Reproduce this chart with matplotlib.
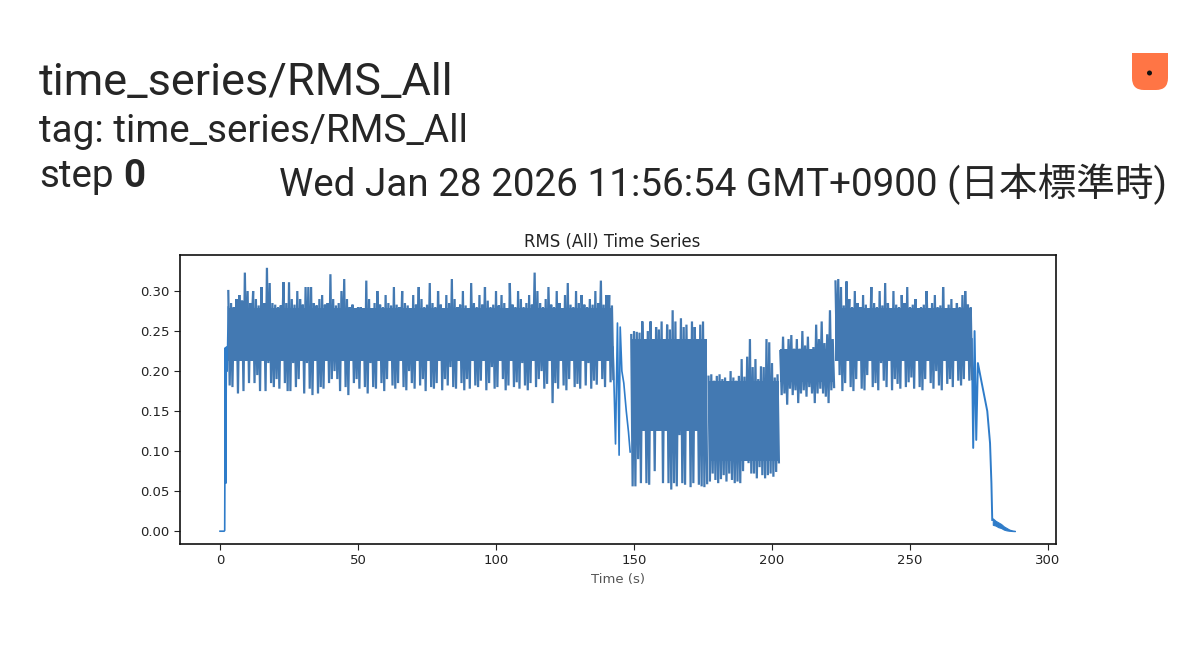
import matplotlib
matplotlib.use('Agg')
import matplotlib.pyplot as plt
from matplotlib.patches import Circle, PathPatch
from matplotlib.path import Path
import numpy as np

# sparse parts of the curve: start, drop after 143 s, end
lead_t = [0, 1.5, 1.7, 1.9, 2.1, 2.3, 2.6, 3.0]
lead_rms = [0, 0, 0.001, 0.229, 0.06, 0.23, 0.20, 0.28]
drop_t = [142.4, 143.3, 144.0, 144.6, 145.0, 145.6, 146.3, 147.2, 148.0, 148.6]
drop_rms = [0.23, 0.109, 0.26, 0.095, 0.255, 0.20, 0.185, 0.15, 0.124, 0.099]
tail_t = [272.4, 272.9, 273.4, 274.0, 274.6, 276.0, 278.0, 279.0, 279.5, 279.8]
tail_rms = [0.24, 0.104, 0.25, 0.114, 0.21, 0.185, 0.15, 0.11, 0.06, 0.014]

# dense parts: one high and one low reading per second
start_a = 3
high_a = [.300, .285, .280, .290, .295, .288, .323, .300, .285, .300,
          .290, .282, .305, .285, .329, .310, .285, .283, .280, .282,
          .311, .285, .311, .290, .283, .300, .290, .283, .305, .305,
          .305, .285, .282, .290, .295, .283, .285, .321, .290, .282,
          .285, .300, .315, .290, .280, .283, .275, .280, .280, .278,
          .313, .290, .278, .285, .300, .283, .280, .295, .285, .282,
          .305, .283, .280, .300, .285, .282, .278, .295, .283, .305,
          .290, .280, .283, .310, .285, .280, .300, .283, .278, .295,
          .285, .315, .290, .280, .283, .300, .282, .278, .310, .285,
          .280, .295, .283, .305, .288, .280, .283, .300, .282, .295,
          .285, .278, .310, .283, .280, .300, .290, .280, .285, .295,
          .283, .323, .300, .285, .280, .290, .305, .283, .280, .300,
          .285, .278, .295, .310, .283, .280, .300, .285, .295, .283,
          .280, .290, .283, .300, .285, .313, .283, .295, .295, .282]
low_a = [.182, .180, .240, .172, .220, .175, .215, .185, .260, .185,
         .195, .175, .230, .175, .210, .185, .180, .190, .178, .245,
         .185, .175, .175, .210, .180, .190, .250, .172, .210, .178,
         .170, .230, .172, .180, .178, .240, .185, .190, .200, .190,
         .175, .220, .180, .170, .245, .185, .190, .178, .230, .180,
         .172, .210, .180, .178, .240, .185, .175, .190, .220, .182,
         .178, .185, .235, .180, .176, .200, .185, .178, .240, .182,
         .190, .175, .215, .180, .178, .185, .240, .176, .190, .182,
         .205, .180, .178, .235, .185, .176, .190, .178, .220, .182,
         .180, .188, .240, .176, .185, .205, .178, .180, .225, .190,
         .176, .182, .240, .180, .186, .178, .210, .182, .176, .185,
         .235, .180, .190, .200, .178, .184, .230, .160, .185, .178,
         .240, .182, .176, .190, .215, .180, .184, .178, .245, .182,
         .210, .178, .188, .183, .235, .190, .180, .240, .186, .190]

start_c = 149
high_c = [.245, .250, .249, .248, .262, .240, .250, .262, .235, .255,
          .252, .262, .240, .258, .252, .276, .262, .240, .266, .255,
          .258, .235, .262, .255, .240, .258, .262, .220]
low_c = [.056, .056, .090, .060, .190, .060, .058, .180, .075, .150,
         .130, .060, .140, .060, .052, .060, .056, .120, .060, .058,
         .130, .055, .060, .180, .058, .056, .055, .060]

start_d = 177
high_d = [.193, .196, .188, .194, .196, .190, .192, .186, .200, .192,
          .188, .194, .215, .193, .218, .240, .205, .215, .190, .206,
          .205, .240, .236, .210, .192, .196]
low_d = [.062, .072, .064, .060, .065, .070, .062, .072, .064, .060,
         .062, .060, .075, .090, .085, .072, .072, .066, .080, .070,
         .066, .070, .072, .068, .074, .086]

start_e = 203
high_e = [.225, .243, .225, .240, .245, .228, .240, .228, .250, .232,
          .243, .225, .230, .258, .240, .262, .235, .246, .276, .240]
low_e = [.170, .172, .158, .178, .170, .176, .160, .172, .176, .168,
         .180, .172, .160, .172, .178, .172, .168, .160, .176, .180]

start_f = 223
high_f = [.312, .315, .305, .282, .312, .290, .280, .300, .285, .280,
          .295, .283, .278, .305, .285, .280, .300, .282, .310, .285,
          .278, .300, .283, .280, .295, .285, .305, .280, .283, .290,
          .278, .280, .283, .300, .278, .285, .295, .280, .282, .305,
          .278, .283, .290, .278, .285, .280, .295, .300, .283, .280]
low_f = [.220, .195, .175, .185, .240, .180, .175, .190, .250, .178,
         .176, .195, .240, .180, .185, .176, .210, .188, .180, .250,
         .176, .190, .184, .178, .240, .180, .186, .192, .178, .230,
         .180, .176, .190, .245, .185, .178, .200, .182, .176, .240,
         .184, .190, .180, .235, .188, .182, .190, .245, .188, .190]

# range the curve fills solid in each dense part
core_high = [.279, .240, .188, .228, .279]
core_low = [.212, .125, .088, .186, .212]

start_g = 280
high_g = [.016, .013, .011, .009, .006, .004, .002, .001, .0005]
low_g = [.008, .007, .005, .004, .002, .001, .0005, .0002, .0]

x_ticks = [0, 50, 100, 150, 200, 250, 300]
y_ticks = [0.00, 0.05, 0.10, 0.15, 0.20, 0.25, 0.30]

LINE = '#2f7cc9'
BAND = '#4379b2'

fig = plt.figure(figsize=(12, 6.61), dpi=100)

ax = fig.add_axes([180 / 1200, 1 - 544 / 661, 876 / 1200, 289 / 661])
ax.plot(lead_t, lead_rms, color=LINE, lw=1.2)
ax.plot(drop_t, drop_rms, color=LINE, lw=1.2)
ax.plot(tail_t, tail_rms, color=LINE, lw=1.4)

bands = [(start_a, high_a, low_a), (start_c, high_c, low_c), (start_d, high_d, low_d),
         (start_e, high_e, low_e), (start_f, high_f, low_f)]
for (start, high, low), c_hi, c_lo in zip(bands, core_high, core_low):
    rms = np.column_stack((high, low)).ravel()
    t = start + 0.5 * np.arange(len(rms))
    ax.plot(t, rms, color=BAND, lw=1.6, solid_joinstyle='miter')
    ax.fill_between([t[0], t[-1]], c_lo, c_hi, color=BAND, lw=0)
ax.fill_between(np.arange(start_g, start_g + len(high_g)), low_g, high_g, color=LINE, lw=0.8)

ax.set_xlim(-14.5, 302.9)
ax.set_ylim(-0.016, 0.345)
ax.set_xticks(x_ticks)
ax.set_yticks(y_ticks)
ax.set_yticklabels(['%.2f' % v for v in y_ticks])
ax.tick_params(labelsize=9.5, length=4, color='#222222', labelcolor='#222222')
ax.set_title('RMS (All) Time Series', fontsize=11.9, color='#222222', pad=6, x=0.4935)
ax.set_xlabel('Time (s)', fontsize=9.5, color='#555555', labelpad=4)
for s in ax.spines.values():
    s.set_linewidth(1.2)
    s.set_color('#111111')

# page around the chart, in pixels of the screenshot
page = fig.add_axes([0, 0, 1, 1], facecolor='none')
page.set_xlim(0, 1200)
page.set_ylim(661, 0)
page.axis('off')

INK = '#262626'
page.text(39, 95, 'time_series/RMS_All', fontsize=32.5, family='Roboto', color=INK)
page.text(39, 142, 'tag: time_series/RMS_All', fontsize=27.8, family='Roboto', color=INK)
page.text(39, 187, 'step', fontsize=27.8, family='Roboto', color=INK)
page.text(123, 187, '0', fontsize=27.8, family='Roboto', weight='bold', color=INK)
page.text(1167, 196, 'Wed Jan 28 2026 11:56:54 GMT+0900 (日本標準時)', fontsize=27.8, ha='right',
          family=['Roboto', 'Noto Sans CJK JP'], color=INK)

verts = [(1132, 53), (1168, 53), (1168, 78), (1168, 90), (1156, 90), (1144, 90), (1132, 90), (1132, 78), (1132, 53)]
codes = [Path.MOVETO, Path.LINETO, Path.LINETO, Path.CURVE3, Path.CURVE3, Path.LINETO, Path.CURVE3, Path.CURVE3, Path.CLOSEPOLY]
page.add_patch(PathPatch(Path(verts, codes), facecolor='#ff7545', edgecolor='none'))
page.add_patch(Circle((1149.5, 73), 2.5, facecolor='#111111', edgecolor='none'))

fig.savefig('out.png', dpi=100)
